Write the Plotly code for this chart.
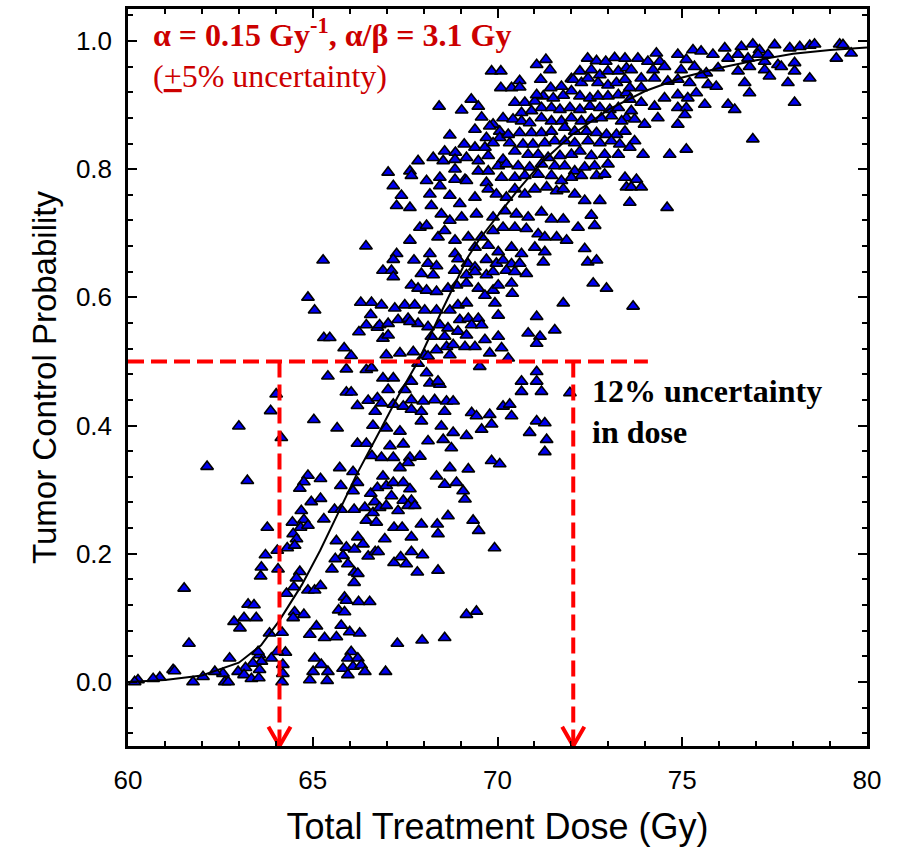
import plotly.graph_objects as go

# ---------------- data ----------------
# scatter points: (total dose [Gy], tumour control probability)
pts_upper_mid = [
    (71.31, 0.971), (71.06, 0.963), (71.42, 0.955), (72.44, 0.973), (72.68, 0.969), (72.93, 0.968),
    (73.17, 0.974), (73.45, 0.973), (69.84, 0.953), (70.09, 0.953),
    (70.60, 0.938), (70.09, 0.927), (70.38, 0.927), (70.60, 0.928), (71.17, 0.940), (71.44, 0.927),
    (71.73, 0.929), (72.00, 0.941), (72.23, 0.953), (72.54, 0.955), (72.77, 0.947), (72.99, 0.953),
    (73.27, 0.953), (73.49, 0.958), (72.05, 0.940), (72.27, 0.935), (72.45, 0.942), (72.72, 0.935),
    (72.99, 0.931), (73.22, 0.935), (73.45, 0.940),
    (69.29, 0.909), (69.03, 0.892), (69.48, 0.898), (68.42, 0.898), (70.47, 0.904), (70.74, 0.904),
    (71.01, 0.906), (71.24, 0.914), (71.51, 0.911), (71.78, 0.915), (72.00, 0.922), (72.23, 0.914),
    (72.50, 0.911), (72.72, 0.914), (72.99, 0.914), (73.27, 0.916), (73.49, 0.919), (71.06, 0.916),
    (69.57, 0.881), (70.15, 0.880), (69.88, 0.870), (70.65, 0.888), (70.92, 0.891), (71.19, 0.896),
    (71.46, 0.896), (71.69, 0.893), (71.96, 0.896), (72.23, 0.893), (72.50, 0.898), (72.77, 0.896),
    (73.04, 0.893), (73.27, 0.896), (73.49, 0.880),
    (69.39, 0.862), (69.79, 0.867), (70.06, 0.859), (70.42, 0.878), (70.65, 0.875), (70.87, 0.872),
    (71.19, 0.880), (71.46, 0.875), (71.73, 0.875), (72.00, 0.880), (72.27, 0.875), (72.54, 0.878),
    (72.81, 0.880), (73.08, 0.883), (73.36, 0.875),
    (68.71, 0.853), (69.70, 0.849), (70.06, 0.849), (70.29, 0.854), (70.60, 0.857), (70.92, 0.857),
    (71.19, 0.857), (71.46, 0.859), (71.82, 0.865), (72.09, 0.859), (72.41, 0.859), (72.68, 0.857),
    (72.95, 0.854), (73.22, 0.854), (73.45, 0.859),
    (69.10, 0.839), (68.57, 0.828), (68.86, 0.826), (69.39, 0.834), (69.66, 0.834), (69.88, 0.841),
    (70.33, 0.841), (70.69, 0.839), (70.96, 0.839), (71.28, 0.841), (71.55, 0.844), (71.82, 0.844),
    (72.09, 0.841), (72.45, 0.844), (72.77, 0.841), (73.08, 0.844), (73.31, 0.839),
    (67.85, 0.813), (68.26, 0.818), (68.53, 0.813), (68.85, 0.815), (69.16, 0.818), (69.48, 0.813),
    (69.75, 0.821), (70.15, 0.815), (70.47, 0.828), (70.83, 0.823), (71.10, 0.823), (71.37, 0.818),
    (71.69, 0.821), (72.00, 0.823), (72.23, 0.828), (72.54, 0.821), (72.90, 0.823), (73.27, 0.823),
    (67.04, 0.795), (67.63, 0.797), (68.08, 0.782), (68.44, 0.787), (68.85, 0.800), (69.12, 0.784),
    (69.48, 0.797), (69.75, 0.797), (70.02, 0.805), (70.24, 0.808), (70.56, 0.805), (70.87, 0.803),
    (71.19, 0.808), (71.55, 0.805), (71.82, 0.805), (72.09, 0.797), (72.36, 0.803), (72.63, 0.805),
    (72.99, 0.808),
    (67.18, 0.774), (67.67, 0.790), (68.44, 0.774), (68.85, 0.784), (69.16, 0.782), (69.70, 0.779),
    (70.11, 0.787), (70.47, 0.787), (70.74, 0.790), (71.10, 0.792), (71.46, 0.790), (71.73, 0.782),
    (72.00, 0.787), (72.27, 0.790), (72.68, 0.790), (72.90, 0.792), (73.45, 0.787),
    (67.40, 0.759), (67.27, 0.743), (67.63, 0.740), (68.17, 0.761), (68.21, 0.743), (68.71, 0.759),
    (68.98, 0.746), (69.39, 0.756), (69.75, 0.769), (69.97, 0.761), (70.24, 0.756), (70.47, 0.769),
    (70.74, 0.761), (71.01, 0.769), (71.33, 0.772), (71.60, 0.766), (71.78, 0.769), (72.09, 0.761),
    (72.36, 0.751), (72.77, 0.751), (73.49, 0.772),
    (68.48, 0.730), (68.71, 0.720), (69.03, 0.725), (69.43, 0.730), (69.88, 0.725), (70.20, 0.735),
    (70.51, 0.730), (70.83, 0.725), (71.19, 0.733), (71.46, 0.722), (71.78, 0.722), (72.54, 0.728),
    (72.63, 0.712),
    (67.90, 0.709), (68.08, 0.712), (67.63, 0.689), (68.39, 0.694), (68.57, 0.704), (68.85, 0.689),
    (69.21, 0.694), (69.57, 0.694), (69.88, 0.704), (70.15, 0.709), (70.47, 0.709), (70.78, 0.707),
    (71.10, 0.699), (71.28, 0.694), (71.60, 0.694), (71.87, 0.689), (72.18, 0.709), (72.36, 0.676),
    (67.27, 0.668), (68.17, 0.668), (68.85, 0.668), (69.39, 0.678), (69.75, 0.681), (70.02, 0.671),
    (70.38, 0.678), (70.65, 0.668), (71.01, 0.678), (71.28, 0.671),
]

pts_upper_right = [
    (73.80, 0.973), (74.30, 0.981), (74.07, 0.968), (74.39, 0.968), (74.88, 0.979), (75.11, 0.971),
    (75.29, 0.986), (75.51, 0.984), (75.83, 0.979), (76.15, 0.989), (76.60, 0.991), (76.91, 0.995),
    (77.09, 0.986), (77.50, 0.994), (77.91, 0.989), (78.18, 0.991), (78.45, 0.993), (78.58, 0.995),
    (79.26, 0.995), (79.35, 0.994), (79.57, 0.981), (79.17, 0.973),
    (73.62, 0.955), (73.89, 0.942), (74.21, 0.955), (74.52, 0.960), (74.97, 0.955), (75.33, 0.960),
    (75.65, 0.950), (75.97, 0.958), (76.51, 0.979), (76.78, 0.973), (77.05, 0.979), (77.23, 0.968),
    (77.32, 0.979), (77.59, 0.963), (77.68, 0.960), (78.04, 0.966), (78.04, 0.953), (77.23, 0.955),
    (77.36, 0.945), (76.82, 0.960), (76.24, 0.973), (76.51, 0.953),
    (73.58, 0.927), (73.89, 0.927), (74.25, 0.942), (74.61, 0.937), (74.88, 0.940), (75.20, 0.935),
    (75.51, 0.947), (75.70, 0.932), (75.92, 0.929), (76.69, 0.935), (76.82, 0.919), (77.86, 0.935),
    (78.45, 0.942), (78.04, 0.904),
    (73.58, 0.909), (73.89, 0.904), (74.25, 0.898), (74.52, 0.911), (74.88, 0.916), (75.15, 0.911),
    (75.38, 0.919), (74.88, 0.896), (75.11, 0.896), (75.61, 0.901), (76.24, 0.901), (76.42, 0.893),
    (73.62, 0.891), (73.71, 0.878), (73.98, 0.870), (74.34, 0.880), (74.88, 0.870), (75.07, 0.885),
    (73.71, 0.844), (73.58, 0.834), (73.94, 0.823), (74.66, 0.823), (75.11, 0.831), (76.91, 0.847),
    (73.76, 0.784), (73.62, 0.772), (73.89, 0.772), (73.58, 0.748), (74.59, 0.740),
    (73.67, 0.586), (66.44, 0.680),
]

pts_mid_left = [
    (65.28, 0.658), (64.87, 0.600), (65.05, 0.580), (66.30, 0.592), (66.59, 0.592), (66.57, 0.573),
    (66.45, 0.557), (66.25, 0.546), (66.75, 0.553), (65.30, 0.537), (65.46, 0.537), (65.85, 0.521),
    (66.04, 0.509), (65.91, 0.488), (66.45, 0.487), (66.59, 0.490), (65.41, 0.477), (64.01, 0.449),
    (63.86, 0.423), (63.00, 0.399), (64.15, 0.381), (65.03, 0.409), (65.91, 0.452), (66.04, 0.452),
    (66.21, 0.431), (66.50, 0.439), (66.69, 0.422), (66.75, 0.443), (65.66, 0.396), (66.63, 0.400),
    (66.21, 0.372), (66.45, 0.372), (66.60, 0.353), (62.14, 0.336), (63.23, 0.314), (65.73, 0.334),
    (66.09, 0.328), (64.87, 0.322), (64.76, 0.312), (64.65, 0.302), (65.21, 0.317), (65.76, 0.306),
    (66.21, 0.311), (66.09, 0.298), (66.57, 0.294), (66.75, 0.303), (64.96, 0.281), (65.21, 0.286),
    (66.68, 0.281),
]

pts_middle = [
    (67.18, 0.659), (67.74, 0.658), (68.12, 0.653), (68.35, 0.649), (68.93, 0.660), (69.19, 0.653),
    (69.39, 0.647), (69.70, 0.659), (69.97, 0.653), (70.15, 0.658), (70.38, 0.652), (70.60, 0.653),
    (70.78, 0.637), (71.24, 0.655), (72.44, 0.655), (72.68, 0.658), (66.90, 0.642), (67.13, 0.642),
    (67.18, 0.632), (67.94, 0.637), (68.26, 0.635), (68.84, 0.642), (69.16, 0.635), (69.39, 0.640),
    (69.70, 0.635), (69.88, 0.640), (70.24, 0.642), (70.47, 0.640),
    (67.67, 0.619), (67.85, 0.614), (68.08, 0.611), (68.35, 0.609), (68.66, 0.614), (68.89, 0.619),
    (69.16, 0.622), (69.48, 0.614), (69.66, 0.603), (69.88, 0.611), (70.02, 0.619), (70.38, 0.622),
    (70.40, 0.606), (72.59, 0.622), (72.95, 0.614), (71.78, 0.591),
    (66.86, 0.588), (67.22, 0.583), (67.49, 0.588), (67.76, 0.588), (68.03, 0.580), (68.35, 0.580),
    (68.71, 0.580), (68.93, 0.588), (69.16, 0.591), (69.93, 0.591), (70.02, 0.572), (71.06, 0.570),
    (71.55, 0.549),
    (66.81, 0.557), (67.04, 0.559), (67.31, 0.565), (67.58, 0.567), (67.85, 0.559), (68.12, 0.554),
    (68.44, 0.557), (68.66, 0.552), (68.98, 0.565), (69.21, 0.567), (69.48, 0.567), (69.30, 0.557),
    (69.57, 0.557),
    (66.90, 0.536), (67.04, 0.541), (67.63, 0.562), (68.21, 0.539), (68.57, 0.539), (68.93, 0.547),
    (69.16, 0.541), (69.66, 0.534), (70.02, 0.539), (70.83, 0.544), (71.15, 0.539), (71.06, 0.528),
    (66.99, 0.510), (67.36, 0.513), (67.72, 0.515), (68.03, 0.510), (68.35, 0.518), (68.62, 0.523),
    (68.80, 0.526), (69.12, 0.523), (69.39, 0.523), (69.79, 0.513), (70.11, 0.521), (70.29, 0.505),
    (67.85, 0.497), (68.12, 0.508), (68.71, 0.510), (69.52, 0.492),
    (66.90, 0.474), (67.18, 0.474), (67.67, 0.469), (68.08, 0.482), (68.17, 0.466), (68.44, 0.464),
    (68.39, 0.469), (67.04, 0.456), (67.49, 0.456), (71.06, 0.484), (70.65, 0.469), (71.06, 0.469),
    (70.65, 0.453), (71.19, 0.453), (71.96, 0.451),
    (66.86, 0.435), (67.18, 0.433), (67.45, 0.430), (67.67, 0.440), (67.99, 0.438), (68.30, 0.440),
    (68.62, 0.438), (68.80, 0.438), (67.67, 0.425), (67.94, 0.422), (68.57, 0.422), (69.30, 0.420),
    (69.43, 0.415), (69.79, 0.417), (70.15, 0.430), (70.33, 0.433), (70.38, 0.415),
    (66.99, 0.396), (67.36, 0.391), (67.94, 0.407), (68.48, 0.399), (68.80, 0.389), (69.16, 0.384),
    (69.57, 0.394), (69.84, 0.402), (70.87, 0.389), (71.06, 0.407), (71.28, 0.404), (71.33, 0.378),
    (71.28, 0.359),
    (67.09, 0.368), (66.86, 0.350), (67.18, 0.350), (67.45, 0.371), (67.63, 0.350), (67.90, 0.352),
    (68.12, 0.376), (68.53, 0.378), (68.75, 0.365), (67.58, 0.342), (67.36, 0.334), (66.90, 0.321),
    (66.99, 0.306), (67.18, 0.311), (67.45, 0.311), (67.63, 0.301), (68.35, 0.321), (68.71, 0.334),
    (69.21, 0.332), (69.84, 0.345), (70.06, 0.340), (68.57, 0.308), (68.89, 0.311), (69.07, 0.298),
    (67.13, 0.290), (67.45, 0.283), (67.67, 0.283), (69.12, 0.285),
]

pts_lower_left = [
    (64.69, 0.267), (64.45, 0.249), (64.76, 0.253), (64.67, 0.241), (64.87, 0.244), (63.77, 0.241),
    (64.47, 0.231), (64.56, 0.223), (64.31, 0.209), (64.51, 0.213), (64.04, 0.205), (63.72, 0.198),
    (63.61, 0.179), (63.59, 0.165), (64.06, 0.176), (64.65, 0.172), (64.56, 0.162), (64.49, 0.148),
    (64.29, 0.138), (61.52, 0.146), (64.87, 0.143), (65.05, 0.143), (65.21, 0.150),
    (65.59, 0.269), (65.77, 0.269), (66.12, 0.269), (66.41, 0.272), (66.63, 0.264), (66.45, 0.252),
    (66.72, 0.249), (65.30, 0.254), (65.64, 0.220), (65.91, 0.210), (66.22, 0.226), (66.36, 0.215),
    (66.13, 0.207), (66.50, 0.196), (66.69, 0.203), (65.82, 0.197), (65.61, 0.192), (65.95, 0.184),
    (65.52, 0.176), (66.13, 0.171), (66.22, 0.169), (66.12, 0.155), (65.86, 0.132), (65.91, 0.127),
    (65.70, 0.112), (65.86, 0.109), (66.24, 0.125), (66.54, 0.125), (65.77, 0.088), (66.00, 0.078),
    (66.27, 0.076), (65.64, 0.070), (65.32, 0.069), (65.10, 0.087), (64.92, 0.074), (64.51, 0.109),
    (64.76, 0.105), (64.47, 0.100), (63.25, 0.121), (63.41, 0.120), (63.14, 0.100), (63.47, 0.100),
    (62.87, 0.094), (63.03, 0.084), (61.65, 0.060), (63.83, 0.076), (64.17, 0.077),
    (66.04, 0.047), (65.95, 0.037), (66.22, 0.037), (65.82, 0.021), (66.09, 0.024), (66.31, 0.026),
    (66.41, 0.016), (65.95, 0.011), (65.05, 0.037), (65.23, 0.027), (65.41, 0.016), (65.01, 0.016),
    (64.92, 0.003), (65.39, 0.002), (64.26, 0.046), (64.04, 0.047), (64.19, 0.027), (64.19, 0.013),
    (64.17, 0.000), (63.88, 0.037), (63.56, 0.042), (63.52, 0.047), (63.61, 0.032), (63.38, 0.029),
    (63.18, 0.022), (63.56, 0.019), (62.98, 0.016), (63.14, 0.011), (63.34, 0.005), (63.54, 0.006),
    (62.75, 0.037), (62.57, 0.013), (62.62, 0.000), (62.71, 0.000), (62.35, 0.016), (62.03, 0.008),
    (61.76, 0.000), (61.22, 0.019), (61.26, 0.017), (60.86, 0.007), (60.68, 0.005), (60.27, 0.003),
    (60.18, 0.000),
]

pts_lower_mid = [
    (66.81, 0.272), (66.99, 0.275), (67.31, 0.267), (67.58, 0.275), (67.76, 0.275), (68.66, 0.259),
    (69.34, 0.252), (69.49, 0.236), (67.94, 0.246), (68.37, 0.246), (68.39, 0.231), (67.20, 0.241),
    (67.42, 0.241), (66.95, 0.223), (67.67, 0.226), (66.77, 0.203), (69.92, 0.209), (67.20, 0.186),
    (67.38, 0.195), (67.53, 0.184), (67.67, 0.203), (67.97, 0.198), (67.83, 0.171), (68.39, 0.174),
    (69.16, 0.105), (69.43, 0.110), (67.29, 0.060), (67.96, 0.065), (68.57, 0.069), (66.97, 0.016),
]

# fitted dose-response curve
fit_dose = [60.0, 61.0, 62.0, 63.0, 63.6, 64.1, 64.7, 65.2, 65.7, 66.2, 66.8, 67.3, 67.85, 68.5,
            69.2, 69.5, 70.5, 71.2, 72.0, 73.0, 74.0, 75.0, 76.0, 77.0, 78.0, 79.0, 80.0]
fit_tcp = [0.000, 0.003, 0.010, 0.030, 0.057, 0.096, 0.151, 0.205, 0.265, 0.325, 0.390, 0.445,
           0.500, 0.580, 0.663, 0.690, 0.764, 0.811, 0.853, 0.893, 0.922, 0.943, 0.958, 0.970,
           0.980, 0.986, 0.990]

# reference lines for the 12 % dose-uncertainty illustration
tcp_half = 0.5
dose_low = 64.1
dose_high = 72.05
guide_end = 74.07

x_ticks = [60, 65, 70, 75, 80]
y_ticks = [0.0, 0.2, 0.4, 0.6, 0.8, 1.0]

# ---------------- figure ----------------
all_pts = pts_upper_mid + pts_upper_right + pts_mid_left + pts_middle + pts_lower_left + pts_lower_mid
dose = [p[0] for p in all_pts]
tcp = [p[1] for p in all_pts]

RED = "#FF0000"
DARKRED = "#CC0000"

fig = go.Figure()
fig.add_trace(go.Scatter(
    x=dose, y=tcp, mode="markers",
    marker=dict(symbol="triangle-up", size=11, color="#0000F0",
                line=dict(color="black", width=1.6)),
    hoverinfo="skip"))
fig.add_trace(go.Scatter(x=fit_dose, y=fit_tcp, mode="lines",
                         line=dict(color="black", width=2), hoverinfo="skip"))

# dashed guides
dash = "16px,7px"
fig.add_shape(type="line", x0=x_ticks[0], x1=guide_end, y0=tcp_half, y1=tcp_half,
              line=dict(color=RED, width=4, dash=dash), layer="above")
for d in (dose_low, dose_high):
    fig.add_shape(type="line", x0=d, x1=d, y0=tcp_half, y1=-0.1,
                  line=dict(color=RED, width=4, dash=dash), layer="above")
    # open arrow head at the axis
    fig.add_trace(go.Scatter(x=[d - 0.3, d, d + 0.3], y=[-0.07, -0.1, -0.07], mode="lines",
                             line=dict(color=RED, width=4), cliponaxis=False, hoverinfo="skip"))

serif = "Liberation Serif, Times New Roman, serif"
fig.add_annotation(x=60.62, y=1.012, xref="x", yref="y", xanchor="left", yanchor="middle",
                   showarrow=False,
                   text="<b>α = 0.15 Gy<sup>-1</sup>, α/β = 3.1 Gy</b>",
                   font=dict(family=serif, size=32, color=DARKRED))
fig.add_annotation(x=60.62, y=0.946, xref="x", yref="y", xanchor="left", yanchor="middle",
                   showarrow=False,
                   text="(<u>+</u>5% uncertainty)",
                   font=dict(family=serif, size=32, color=DARKRED))
fig.add_annotation(x=72.5, y=0.454, xref="x", yref="y", xanchor="left", yanchor="middle",
                   showarrow=False, text="<b>12% uncertainty</b>",
                   font=dict(family=serif, size=32, color="black"))
fig.add_annotation(x=72.5, y=0.390, xref="x", yref="y", xanchor="left", yanchor="middle",
                   showarrow=False, text="<b>in dose</b>",
                   font=dict(family=serif, size=32, color="black"))

sans = "Liberation Sans, Arial, sans-serif"
axis_common = dict(showline=True, linecolor="black", linewidth=2.5, mirror="allticks",
                   ticks="inside", ticklen=9, tickwidth=2, tickcolor="black",
                   showgrid=False, zeroline=False)
fig.update_xaxes(range=[60, 80], tickvals=x_ticks, ticktext=[str(v) for v in x_ticks],
                 tickfont=dict(family=sans, size=26, color="black"),
                 ticklabelstandoff=9,
                 minor=dict(dtick=1, tick0=60, ticks="inside", ticklen=5, tickwidth=1.5,
                            tickcolor="black", showgrid=False),
                 title=dict(text="Total Treatment Dose (Gy)", standoff=20,
                            font=dict(family=sans, size=36, color="black")),
                 **axis_common)
fig.update_yaxes(range=[-0.1, 1.05], tickvals=y_ticks, ticktext=[f"{v:.1f}" for v in y_ticks],
                 tickfont=dict(family=sans, size=26, color="black"),
                 ticklabelstandoff=8,
                 minor=dict(dtick=0.04, tick0=0, ticks="inside", ticklen=5, tickwidth=1.5,
                            tickcolor="black", showgrid=False),
                 title=dict(text="Tumor Control Probability", standoff=10,
                            font=dict(family=sans, size=33, color="black")),
                 **axis_common)

fig.update_layout(width=905, height=854, margin=dict(l=128, r=38, t=6, b=108),
                  plot_bgcolor="white", paper_bgcolor="white", showlegend=False)

fig.write_html("out.html")
